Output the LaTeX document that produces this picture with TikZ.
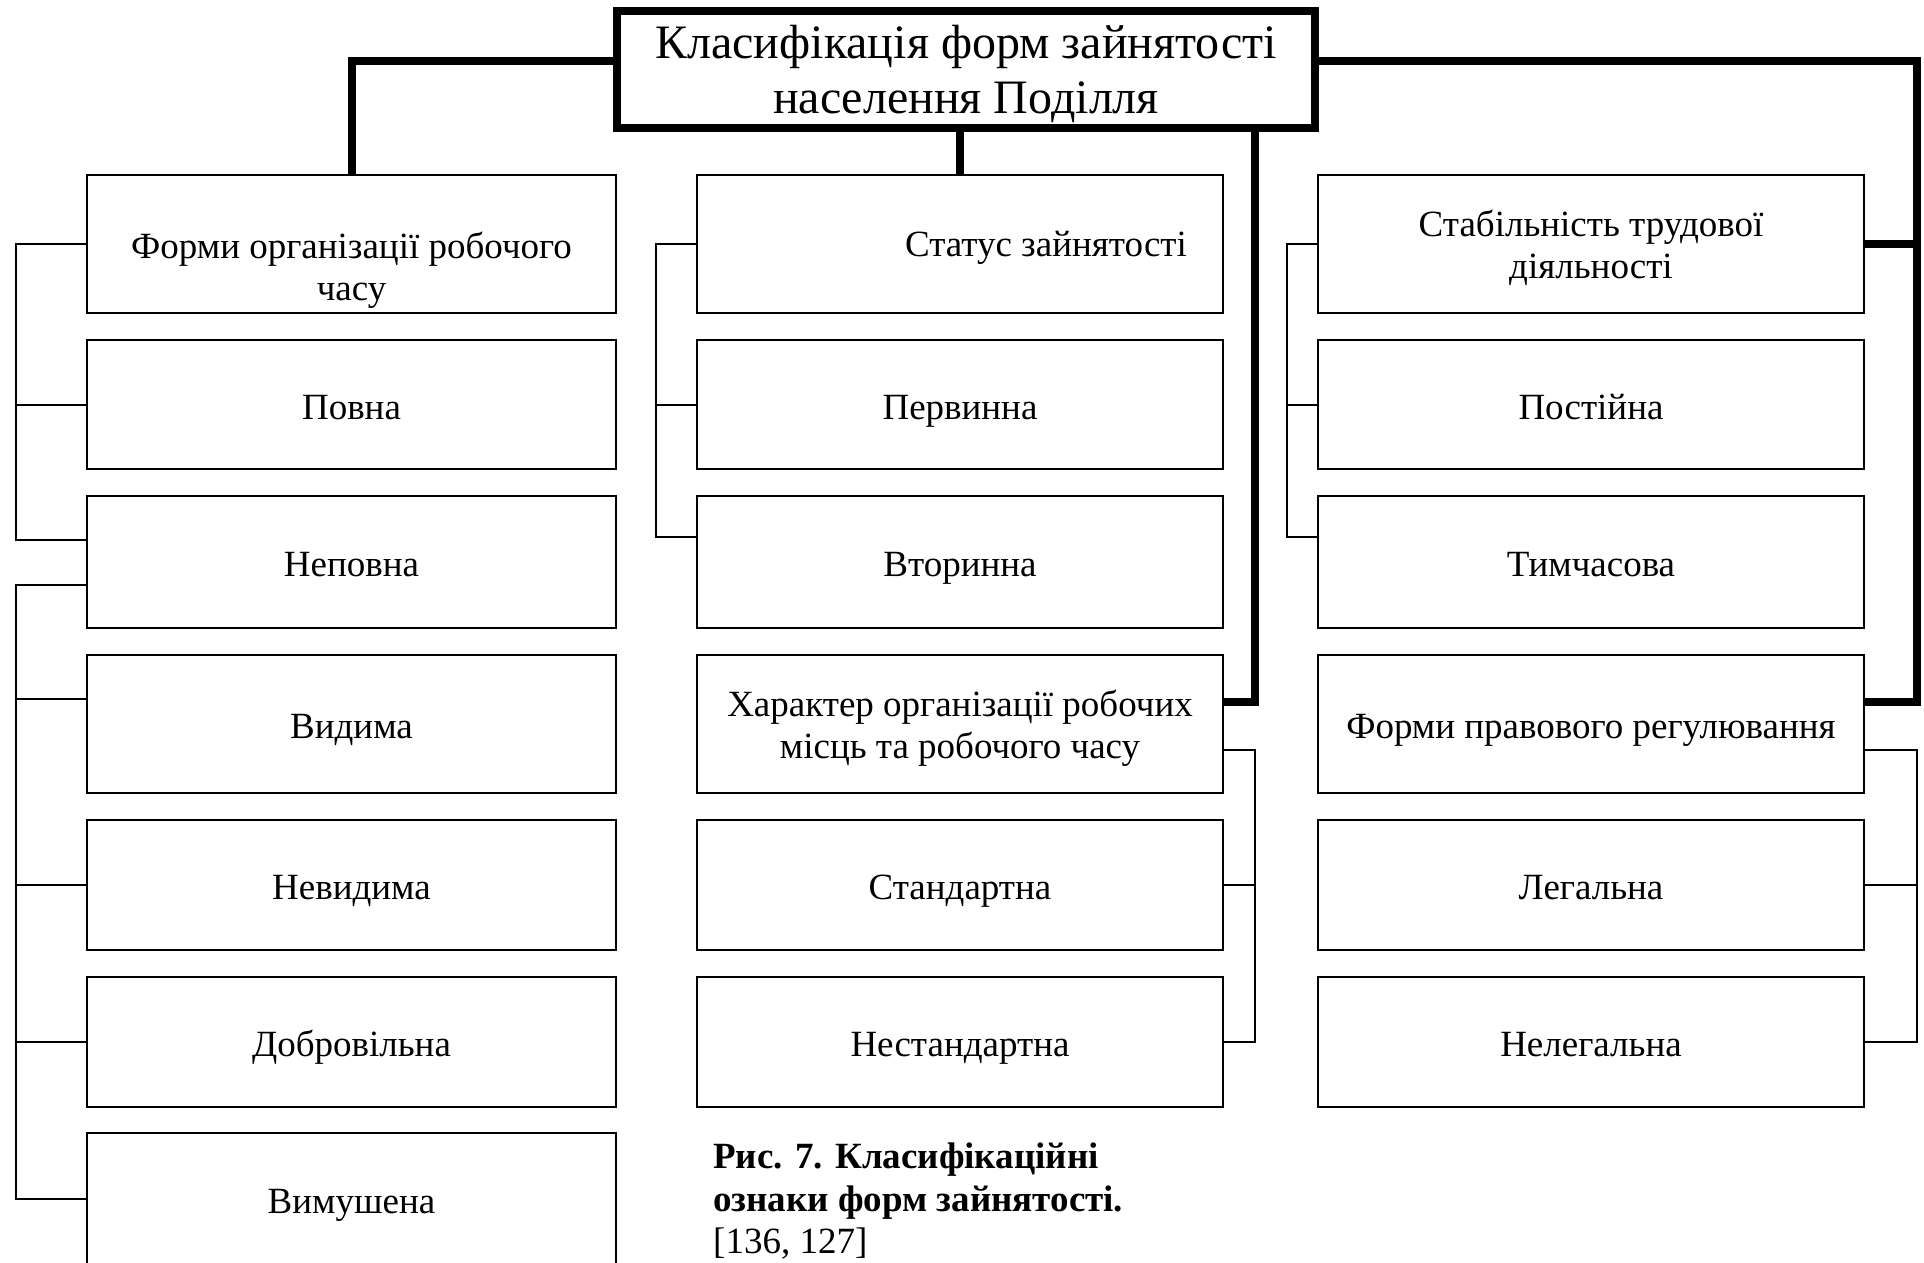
\documentclass[tikz,border=0pt]{standalone}
\usepackage{fontspec}
\setmainfont{Liberation Serif}
\usepackage{tikz}
\usetikzlibrary{calc}
\tikzset{
  cellbox/.style={draw=black, line width=2pt, fill=white, align=center,
    inner sep=0pt, font=\fontsize{37}{42.5}\selectfont},
  oneline/.style={cellbox, text height=32pt, text depth=2.8pt},
  twoline/.style={cellbox, text depth=0pt},
  lcol/.style={minimum width=529pt},
  mcol/.style={minimum width=526pt},
  rcol/.style={minimum width=546pt},
  headblock/.style={draw=black, line width=8pt, fill=white, align=center,
    inner sep=0pt, minimum width=698pt, minimum height=117pt, text depth=0pt,
    font=\fontsize{48}{55}\selectfont},
  boxlbl/.style={align=center, inner sep=0pt, font=\fontsize{37}{42.5}\selectfont},
  captext/.style={align=left, inner sep=0pt, anchor=north west,
    font=\fontsize{37}{42.5}\selectfont},
  % connectors
  thickflow/.style={draw=black, line width=8pt, line join=miter},
  thinflow/.style={draw=black, line width=2pt, line join=miter},
}

\begin{document}
\begin{tikzpicture}[x=1pt, y=-1pt]

\useasboundingbox (0,0) rectangle (1924,1262);
\clip (0,0) rectangle (1924,1262);
\fill[white] (0,0) rectangle (1924,1262);

% ---------- head ----------
\node[headblock] (title) at (966,69.5) {Класифікація форм зайнятості\\населення Поділля};

% ---------- left column ----------
\node[cellbox, lcol, minimum height=138pt] (fo) at (351.5,244)
  [label={[boxlbl, yshift=-26pt]center:{Форми організації робочого\\часу}}] {};
\node[oneline, lcol, minimum height=129pt] (pv) at (351.5,404.5) {Повна};
\node[oneline, lcol, minimum height=132pt] (np) at (351.5,562) {Неповна};
\node[oneline, lcol, minimum height=138pt] (vd) at (351.5,724) {Видима};
\node[oneline, lcol, minimum height=130pt] (nv) at (351.5,885) {Невидима};
\node[oneline, lcol, minimum height=130pt] (db) at (351.5,1042) {Добровільна};
\node[oneline, lcol, minimum height=132pt] (vm) at (351.5,1199) {Вимушена};

% ---------- middle column ----------
\node[cellbox, mcol, minimum height=138pt] (st) at (960,244)
  [label={[boxlbl, xshift=86pt, yshift=-4pt]center:Статус зайнятості}] {};
\node[oneline, mcol, minimum height=129pt] (pe) at (960,404.5) {Первинна};
\node[oneline, mcol, minimum height=132pt] (vt) at (960,562) {Вторинна};
\node[twoline, mcol, minimum height=138pt] (ch) at (960,724)
  {Характер організації робочих\\місць та робочого часу};
\node[oneline, mcol, minimum height=130pt] (sn) at (960,885) {Стандартна};
\node[oneline, mcol, minimum height=130pt] (ns) at (960,1042) {Нестандартна};

% ---------- right column ----------
\node[twoline, rcol, minimum height=138pt] (sd) at (1591,244)
  {Стабільність трудової\\діяльності};
\node[oneline, rcol, minimum height=129pt] (ps) at (1591,404.5) {Постійна};
\node[oneline, rcol, minimum height=132pt] (tm) at (1591,562) {Тимчасова};
\node[oneline, rcol, minimum height=138pt] (fp) at (1591,724) {Форми правового регулювання};
\node[oneline, rcol, minimum height=130pt] (lg) at (1591,885) {Легальна};
\node[oneline, rcol, minimum height=130pt] (nl) at (1591,1042) {Нелегальна};

% ---------- caption ----------
\node[captext] (cap) at (713,1143)
  {\textbf{Рис. 7. Класифікаційні}\\\textbf{ознаки форм зайнятості.}\\{}[136, 127]};

% ---------- bus lines and branch points ----------
\coordinate (lbus)  at (16,0);
\coordinate (mbus)  at (656,0);
\coordinate (mrbus) at (1255,0);
\coordinate (rbus)  at (1287,0);
\coordinate (rrbus) at (1917,0);
\coordinate (npA) at ($(np.west)+(0,-22)$);
\coordinate (npB) at ($(np.west)+(0,23)$);
\coordinate (vdA) at ($(vd.west)+(0,-25)$);
\coordinate (vtA) at ($(vt.west)+(0,-25)$);
\coordinate (tmA) at ($(tm.west)+(0,-25)$);
\coordinate (chA) at ($(ch.east)+(0,-22)$);
\coordinate (chB) at ($(ch.east)+(0,26)$);
\coordinate (fpA) at ($(fp.east)+(0,-22)$);
\coordinate (fpB) at ($(fp.east)+(0,26)$);
\coordinate (tlA) at ($(title.west)+(0,-8.5)$);
\coordinate (trA) at ($(title.east)+(0,-8.5)$);

% ---------- thin brackets ----------
\draw[thinflow] (fo.west) -| (npA -| lbus) -- (npA);
\draw[thinflow] (pv.west) -- (pv.west -| lbus);
\draw[thinflow] (npB) -| (vm.west -| lbus) -- (vm.west);
\draw[thinflow] (vdA) -- (vdA -| lbus);
\draw[thinflow] (nv.west) -- (nv.west -| lbus);
\draw[thinflow] (db.west) -- (db.west -| lbus);

\draw[thinflow] (st.west) -| (vtA -| mbus) -- (vtA);
\draw[thinflow] (pe.west) -- (pe.west -| mbus);
\draw[thinflow] (chB) -| (ns.east -| mrbus) -- (ns.east);
\draw[thinflow] (sn.east) -- (sn.east -| mrbus);

\draw[thinflow] (sd.west) -| (tmA -| rbus) -- (tmA);
\draw[thinflow] (ps.west) -- (ps.west -| rbus);
\draw[thinflow] (fpB) -| (nl.east -| rrbus) -- (nl.east);
\draw[thinflow] (lg.east) -- (lg.east -| rrbus);

% ---------- thick links from the head ----------
\draw[thickflow] (tlA) -| (fo.north);
\draw[thickflow] (title.south -| st.north) -- (st.north);
\draw[thickflow] (title.south -| mrbus) |- (chA);
\draw[thickflow] (trA) -| (fpA -| rrbus) -- (fpA);
\draw[thickflow] (sd.east) -- (sd.east -| rrbus);

\end{tikzpicture}
\end{document}
